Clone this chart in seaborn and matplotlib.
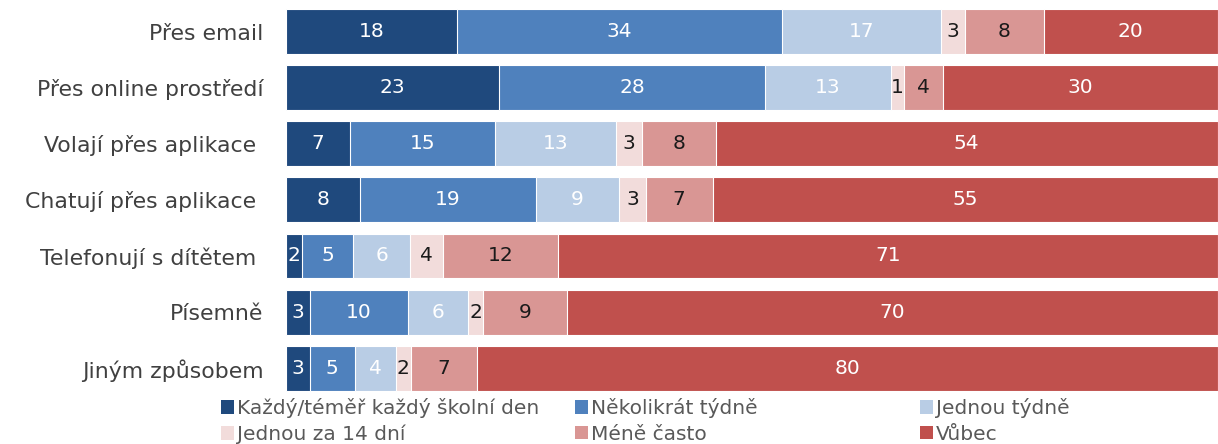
"""Skládaný pruhový graf: způsoby komunikace se školou."""
import numpy as np
import pandas as pd
import matplotlib
matplotlib.use("Agg")
import matplotlib.pyplot as plt
from matplotlib.patches import Patch
import seaborn as sns

# Data (některé popisky mají v originále mezeru na konci)
kategorie = ["Přes email", "Přes online prostředí", "Volají přes aplikace ",
             "Chatují přes aplikace ", "Telefonují s dítětem ", "Písemně",
             "Jiným způsobem"]
serie = ["Každý/téměř každý školní den", "Několikrát týdně", "Jednou týdně",
         "Jednou za 14 dní", "Méně často", "Vůbec"]

# Podíly (%) odečtené z délek pruhů
kazdy_den = [18.4, 22.9, 6.9, 8.0, 1.75, 2.6, 2.6]
nekolikrat_tydne = [34.8, 28.5, 15.5, 18.8, 5.5, 10.5, 4.8]
jednou_tydne = [17.1, 13.5, 13.05, 9.0, 6.1, 6.45, 4.4]
za_14_dni = [2.6, 1.45, 2.8, 2.8, 3.55, 1.6, 1.6]
mene_casto = [8.4, 4.1, 7.85, 7.2, 12.3, 9.0, 7.15]
vubec = [18.7, 29.55, 53.9, 54.2, 70.8, 69.85, 79.45]

# Popisky hodnot tak, jak jsou v grafu
popisky_kazdy_den = [18, 23, 7, 8, 2, 3, 3]
popisky_nekolikrat_tydne = [34, 28, 15, 19, 5, 10, 5]
popisky_jednou_tydne = [17, 13, 13, 9, 6, 6, 4]
popisky_za_14_dni = [3, 1, 3, 3, 4, 2, 2]
popisky_mene_casto = [8, 4, 8, 7, 12, 9, 7]
popisky_vubec = [20, 30, 54, 55, 71, 70, 80]

barvy = ["#1F497D", "#4F81BD", "#B9CDE5", "#F2DCDB", "#D99694", "#C0504D"]
barvy_textu = ["white", "white", "white", "#1a1a1a", "#1a1a1a", "white"]

df = pd.DataFrame(
    np.array([kazdy_den, nekolikrat_tydne, jednou_tydne, za_14_dni,
              mene_casto, vubec]).T,
    index=kategorie, columns=serie)
popisky = pd.DataFrame(
    np.array([popisky_kazdy_den, popisky_nekolikrat_tydne, popisky_jednou_tydne,
              popisky_za_14_dni, popisky_mene_casto, popisky_vubec]).T,
    index=kategorie, columns=serie)
kum = df.cumsum(axis=1)

sns.set_theme(style="white")
plt.rcParams["font.family"] = ["DejaVu Sans"]

fig = plt.figure(figsize=(12.18, 4.44), dpi=100)
ax = fig.add_axes([0.2346, 0.1075, 0.7654, 0.8847])

# Skládání: kumulativní součty od konce, aby byly vidět všechny segmenty
for i in range(len(serie) - 1, -1, -1):
    sns.barplot(x=kum[serie[i]].values, y=kategorie, orient="h", ax=ax,
                color=barvy[i], width=0.8, edgecolor="white", linewidth=0.8,
                saturation=1)

# Popisky hodnot uprostřed segmentů
for i, s in enumerate(serie):
    stred = kum[s] - df[s] / 2
    for r, kat in enumerate(kategorie):
        ax.text(stred[kat], r, f"{popisky.loc[kat, s]}", ha="center",
                va="center", fontsize=14.5, color=barvy_textu[i])

ax.set_xlim(0, 100)
ax.set_ylim(6.5, -0.5)
ax.set_xlabel("")
ax.set_ylabel("")
ax.set_xticks([])
ax.tick_params(axis="y", length=0, pad=16, labelsize=15.8, labelcolor="#404040")
for sp in ax.spines.values():
    sp.set_visible(False)

# Legenda: tři sloupce se stejnými roztečemi
sloupce_x = [221, 575, 920]
for k, x in enumerate(sloupce_x):
    idx = [k, k + 3]
    fig.legend([Patch(facecolor=barvy[j], edgecolor="none") for j in idx],
               [serie[j] for j in idx], loc="upper left",
               bbox_to_anchor=(x / 1218, 1 - 398 / 444), frameon=False,
               borderpad=0, borderaxespad=0, fontsize=14.5, handlelength=0.65,
               handleheight=0.65, handletextpad=0.15, labelspacing=0.33,
               labelcolor="#595959")

fig.savefig("out.png", dpi=100)
